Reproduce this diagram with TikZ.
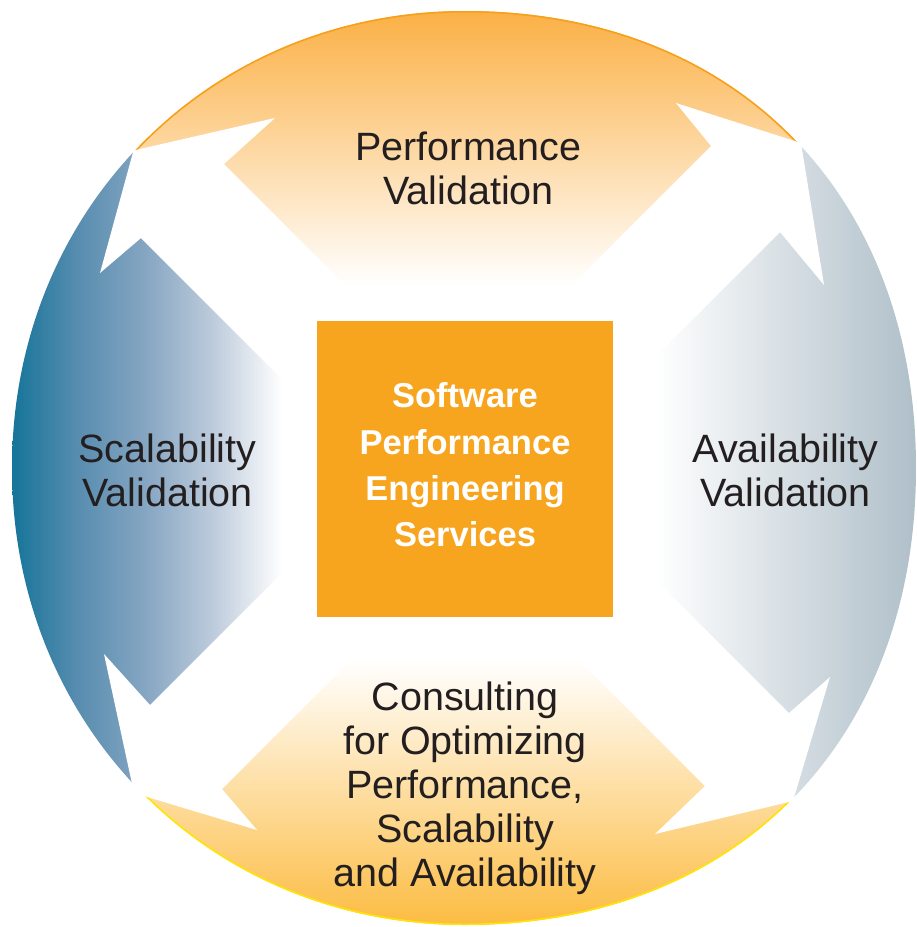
\documentclass[tikz,border=0pt]{standalone}
\usepackage{fontspec}
\setmainfont{Liberation Sans}
\usetikzlibrary{calc}

\definecolor{scalblue}{rgb}{0.075, 0.455, 0.600}
\definecolor{scalsteel}{rgb}{0.345, 0.553, 0.690}
\definecolor{scalmid}{rgb}{0.525, 0.651, 0.761}
\definecolor{scallight}{rgb}{0.745, 0.800, 0.863}
\pgfdeclarehorizontalshading{scalfade}{100bp}{color(0bp)=(scalblue); color(25bp)=(scalblue); color(37.5bp)=(scalsteel); color(50bp)=(scalmid); color(62.5bp)=(scallight); color(75bp)=(white); color(100bp)=(white)}

\newcommand{\rimpath}{(12,468) .. controls (12,209.8) and (209,11) .. (465,11) .. controls (735.6,11) and (916,193.8) .. (916,468) .. controls (916,742.2) and (735.6,925) .. (465,925) .. controls (209,925) and (12,726.2) .. (12,468) -- cycle}

\begin{document}
\begin{tikzpicture}[x=1pt, y=-1pt,
  segtext/.style={align=center, text=ink, font=\fontsize{39.5}{44}\selectfont},
  hubtext/.style={align=center, text=white, font=\bfseries\fontsize{34.5}{46.3}\selectfont},
  hubbox/.style={fill=hub, minimum size=296, inner sep=0}]

\definecolor{ink}{rgb}{0.137, 0.122, 0.125}
\definecolor{hub}{rgb}{0.969, 0.647, 0.122}
\definecolor{topor}{rgb}{0.984, 0.690, 0.270}
\definecolor{toprim}{rgb}{0.965, 0.627, 0.102}
\definecolor{botor}{rgb}{0.988, 0.737, 0.259}
\definecolor{botrim}{rgb}{1.0, 0.9, 0.0}
\definecolor{availgrey}{rgb}{0.682, 0.745, 0.784}

\useasboundingbox (0,0) rectangle (917,927);

\coordinate (c) at (465,468);
\coordinate (tl) at (133.5,150.5);
\coordinate (tr) at (801,143);
\coordinate (bl) at (134,793);
\coordinate (br) at (793,801);
\coordinate (tlx) at ($(c)!2!(tl)$);
\coordinate (trx) at ($(c)!2!(tr)$);
\coordinate (blx) at ($(c)!2!(bl)$);
\coordinate (brx) at ($(c)!2!(br)$);

\begin{scope}
  \clip \rimpath;
  \clip (c) -- (tlx) -- (trx) -- cycle;
  \shade[top color=topor, bottom color=white] (0,11) rectangle (917,285);
  \draw[toprim, line width=3] \rimpath;
\end{scope}
\begin{scope}
  \clip \rimpath;
  \clip (c) -- (blx) -- (brx) -- cycle;
  \shade[top color=white, bottom color=botor] (0,660) rectangle (917,925);
  \draw[botrim, line width=3] \rimpath;
\end{scope}
\begin{scope}
  \clip \rimpath;
  \clip (c) -- (tlx) -- (blx) -- cycle;
  \shade[shading=scalfade] (10,0) rectangle (282,927);
\end{scope}
\begin{scope}
  \clip \rimpath;
  \clip (c) -- (trx) -- (brx) -- cycle;
  \shade[left color=white, right color=availgrey] (655,0) rectangle (920,927);
\end{scope}

\fill[white] (tl) -- (275,118) -- (224,164) -- (440,380) -- (340,437) -- (141,238) -- (100,273) -- cycle;
\fill[white] (tr) -- (676,103) -- (711,146) -- (520,337) -- (600,412) -- (780,232) -- (824,285) -- cycle;
\fill[white] (bl) -- (104,654) -- (150,705) -- (400,455) -- (450,561) -- (222,789) -- (257,830) -- cycle;
\fill[white] (br) -- (830,677) -- (789,713) -- (560,484) -- (480,561) -- (705,786) -- (655,834) -- cycle;

\node[hubbox] (hub) at (465,469) {};
\node[hubtext] (hublabel) at (465,465) {Software\\Performance\\Engineering\\Services};

\node[segtext] (perf) at (468.5,167.9) {Performance\\Validation};
\node[segtext] (scal) at (167.5,470.3) {Scalability\\Validation};
\node[segtext] (avail) at (785.5,470.3) {Availability\\Validation};
\node[segtext] (consult) at (465,787.8) {Consulting\\for Optimizing\\Performance,\\Scalability\\and Availability};

\end{tikzpicture}
\end{document}
